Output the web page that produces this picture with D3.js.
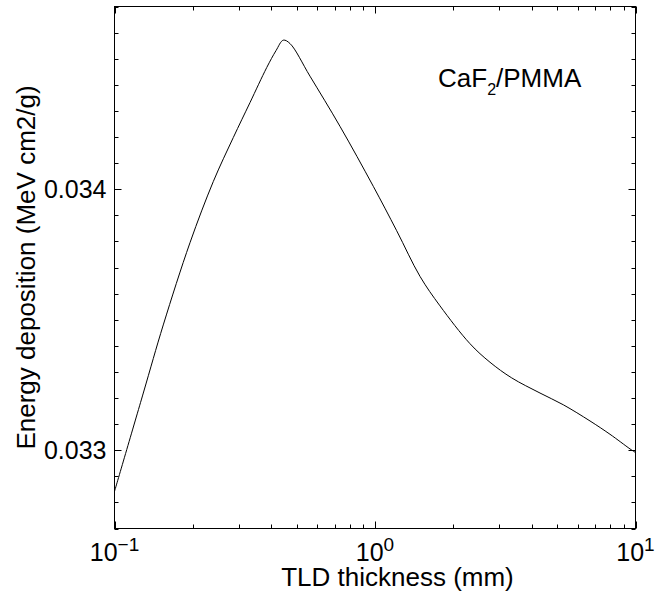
<!DOCTYPE html>
<html>
<head>
<meta charset="utf-8">
<script src="https://cdn.jsdelivr.net/npm/d3@7"></script>
<style>
  html, body { margin: 0; padding: 0; background: #fff; }
  svg { display: block; font-family: "Liberation Sans", Arial, Helvetica, sans-serif; }
</style>
</head>
<body>
<svg id="chart" width="655" height="598"></svg>
<script>
// ---- data ----
const thickness = [0.1, 0.129, 0.1539, 0.1949, 0.2394, 0.2858, 0.3313, 0.384, 0.4169, 0.4446, 0.4718, 0.5629, 0.7337, 0.9851, 1.2111, 1.4884, 1.776, 2.3157, 2.7633, 3.3481, 4.2996, 5.2832, 6.6894, 7.9819, 9.5256, 10];
const energy = [0.032842, 0.033219, 0.033480, 0.033795, 0.034029, 0.034198, 0.034332, 0.034466, 0.034531, 0.034571, 0.034558, 0.034433, 0.034241, 0.034011, 0.033841, 0.033666, 0.033553, 0.033408, 0.033337, 0.033277, 0.033219, 0.033174, 0.033112, 0.033061, 0.033005, 0.032991];
const xDomain = [0.1, 10];
const yDomain = [0.0327, 0.0347];
const xMajorTicks = [0.1, 1, 10];
const xMajorExp = ["\u22121", "0", "1"];
const yMajorTicks = [0.033, 0.034];
const yMajorLabels = ["0.033", "0.034"];
const xTitle = "TLD thickness (mm)";
const yTitle = "Energy deposition (MeV cm2/g)";

// ---- layout ----
const L = 114.5, R = 635.5, T = 6.5, B = 528.5;
const svg = d3.select("#chart");
const x = d3.scaleLog().domain(xDomain).range([L, R]);
const y = d3.scaleLinear().domain(yDomain).range([B, T]);

const g = svg.append("g");

// frame
g.append("rect").attr("x", L).attr("y", T).attr("width", R - L).attr("height", B - T)
  .attr("fill", "none").attr("stroke", "#000").attr("stroke-width", 1);

// x ticks
const xMinor = [];
for (let d = 0.1; d < 10; d *= 10) for (let k = 2; k <= 9; k++) xMinor.push(+(d * k).toPrecision(3));
const xt = g.append("g").attr("stroke", "#000").attr("stroke-width", 1);
xMinor.forEach(v => {
  const px = Math.round(x(v)) + 0.5;
  xt.append("line").attr("x1", px).attr("x2", px).attr("y1", B).attr("y2", B - 4);
  xt.append("line").attr("x1", px).attr("x2", px).attr("y1", T).attr("y2", T + 4);
});
xMajorTicks.forEach(v => {
  const px = Math.round(x(v)) + 0.5;
  xt.append("line").attr("x1", px).attr("x2", px).attr("y1", B).attr("y2", B - 7);
  xt.append("line").attr("x1", px).attr("x2", px).attr("y1", T).attr("y2", T + 7);
});

// y ticks
const yMinor = d3.range(0, 21).map(i => +(yDomain[0] + i * 0.0001).toFixed(5));
const yt = g.append("g").attr("stroke", "#000").attr("stroke-width", 1);
yMinor.forEach(v => {
  const py = Math.round(y(v)) + 0.5;
  const major = yMajorTicks.some(m => Math.abs(m - v) < 1e-9);
  const len = major ? 7 : 4;
  yt.append("line").attr("x1", L).attr("x2", L + len).attr("y1", py).attr("y2", py);
  yt.append("line").attr("x1", R).attr("x2", R - len).attr("y1", py).attr("y2", py);
});

// y tick labels
yMajorTicks.forEach((v, i) => {
  g.append("text").attr("x", L - 8).attr("y", y(v)).attr("dy", "0.35em")
    .attr("text-anchor", "end").attr("font-size", 25).attr("fill", "#000")
    .text(yMajorLabels[i]);
});

// x tick labels (10^n)
xMajorTicks.forEach((v, i) => {
  const t = g.append("text").attr("x", x(v)).attr("y", 561)
    .attr("text-anchor", "middle").attr("font-size", 25).attr("fill", "#000");
  t.append("tspan").text("10");
  t.append("tspan").attr("font-size", 19).attr("dy", -10).text(xMajorExp[i]);
});

// axis titles
g.append("text").attr("x", 397.5).attr("y", 586).attr("text-anchor", "middle")
  .attr("font-size", 26).attr("fill", "#000").text(xTitle);
g.append("text").attr("transform", `translate(35,${(T + B) / 2}) rotate(-90)`)
  .attr("text-anchor", "middle").attr("font-size", 26).attr("fill", "#000").text(yTitle);

// annotation
const ann = g.append("text").attr("x", 438).attr("y", 87).attr("font-size", 26).attr("fill", "#000");
ann.append("tspan").text("CaF");
ann.append("tspan").attr("font-size", 16).attr("dy", 8).text("2");
ann.append("tspan").attr("dy", -8).text("/PMMA");

// curve
const line = d3.line().x((d, i) => x(thickness[i])).y((d, i) => y(energy[i])).curve(d3.curveCatmullRom.alpha(0.5));
g.append("path").attr("d", line(energy)).attr("fill", "none").attr("stroke", "#000").attr("stroke-width", 1);
</script>
</body>
</html>
